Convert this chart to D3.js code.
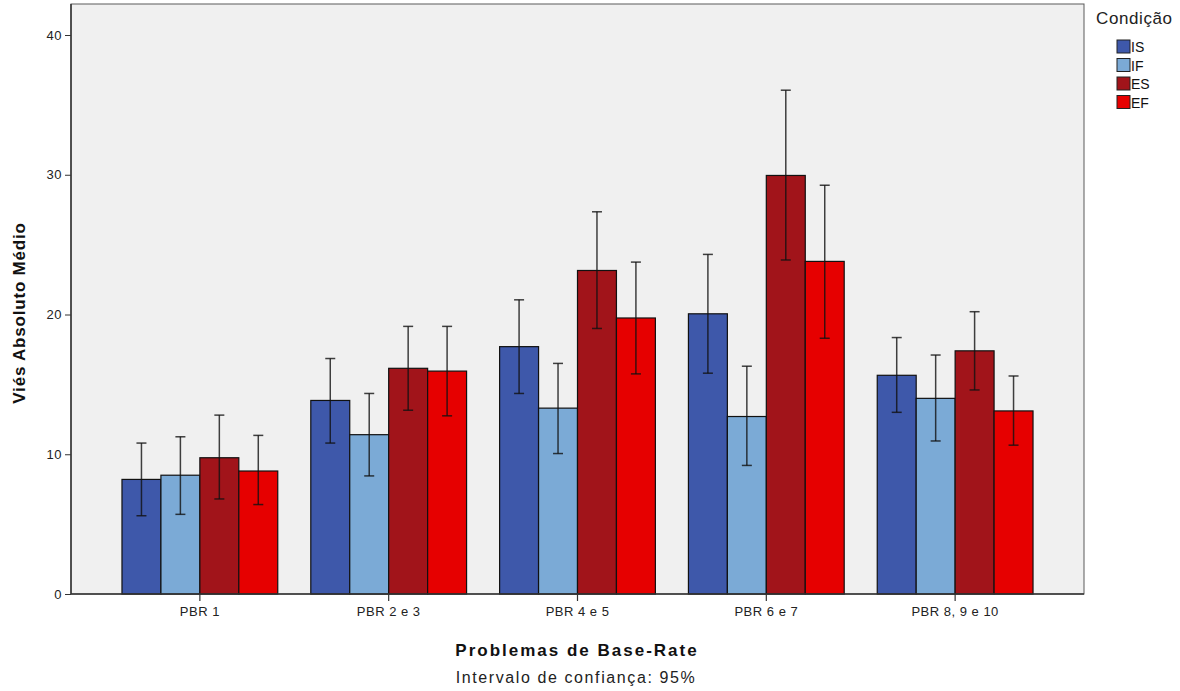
<!DOCTYPE html>
<html>
<head>
<meta charset="utf-8">
<script src="https://cdn.jsdelivr.net/npm/d3@7"></script>
<style>
  body { margin: 0; background: #fff; }
  text { font-family: "Liberation Sans", Arial, sans-serif; }
</style>
</head>
<body>
<div id="chart"></div>
<script>
// categories and series
const problems = ['PBR 1', 'PBR 2 e 3', 'PBR 4 e 5', 'PBR 6 e 7', 'PBR 8, 9 e 10'];
const conditions = ['IS', 'IF', 'ES', 'EF'];
const colors = ['#3e58aa', '#7baad6', '#a1141a', '#e60000'];

// means per condition (one value per problem)
const meanIS = [8.2, 13.85, 17.7, 20.05, 15.65];
const meanIF = [8.5, 11.4, 13.3, 12.7, 14.0];
const meanES = [9.75, 16.15, 23.15, 29.95, 17.4];
const meanEF = [8.8, 15.95, 19.75, 23.8, 13.1];

// 95% CI bounds
const lowIS = [5.6, 10.8, 14.35, 15.8, 13.0];
const highIS = [10.8, 16.85, 21.05, 24.3, 18.35];
const lowIF = [5.7, 8.45, 10.05, 9.2, 10.95];
const highIF = [11.25, 14.35, 16.5, 16.3, 17.1];
const lowES = [6.8, 13.15, 19.0, 23.9, 14.6];
const highES = [12.8, 19.15, 27.35, 36.05, 20.2];
const lowEF = [6.4, 12.75, 15.75, 18.3, 10.65];
const highEF = [11.35, 19.15, 23.75, 29.25, 15.6];

const yTicks = [0, 10, 20, 30, 40];

const means = [meanIS, meanIF, meanES, meanEF];
const lows = [lowIS, lowIF, lowES, lowEF];
const highs = [highIS, highIF, highES, highEF];

const width = 1180, height = 691;
const plot = { left: 71, right: 1084, top: 4, bottom: 594 };

const svg = d3.select('#chart').append('svg')
    .attr('width', width)
    .attr('height', height);

const x = d3.scaleBand()
    .domain(problems)
    .range([plot.left, plot.right])
    .paddingInner(0.175)
    .paddingOuter(0.27);

const xSub = d3.scaleBand()
    .domain(conditions)
    .range([0, x.bandwidth()]);

const y = d3.scaleLinear()
    .domain([0, 40])
    .range([plot.bottom, 35]);

// plot background
svg.append('rect')
    .attr('x', plot.left)
    .attr('y', plot.top)
    .attr('width', plot.right - plot.left)
    .attr('height', plot.bottom - plot.top)
    .style('fill', '#f0f0f0')
    .style('stroke', '#5a5a5a')
    .style('stroke-width', 1);

// flatten into records
const records = [];
problems.forEach((p, i) => {
    conditions.forEach((c, j) => {
        records.push({ problem: p, cond: c, idx: j, mean: means[j][i], low: lows[j][i], high: highs[j][i] });
    });
});

svg.append('g').attr('class', 'bars')
    .selectAll('rect')
    .data(records)
    .enter().append('rect')
    .attr('x', d => x(d.problem) + xSub(d.cond))
    .attr('y', d => y(d.mean))
    .attr('width', xSub.bandwidth())
    .attr('height', d => y(0) - y(d.mean))
    .style('fill', d => colors[d.idx])
    .style('stroke', '#111')
    .style('stroke-width', 1.2);

// error bars
const capW = 5;
const err = svg.append('g').attr('class', 'errors')
    .selectAll('g')
    .data(records)
    .enter().append('g')
    .attr('transform', d => `translate(${x(d.problem) + xSub(d.cond) + xSub.bandwidth() / 2},0)`)
    .style('stroke', '#111')
    .style('stroke-opacity', 0.8)
    .style('stroke-width', 1.5);

err.append('line')
    .attr('x1', 0).attr('x2', 0)
    .attr('y1', d => y(d.low))
    .attr('y2', d => y(d.high));
err.append('line')
    .attr('x1', -capW).attr('x2', capW)
    .attr('y1', d => y(d.high)).attr('y2', d => y(d.high));
err.append('line')
    .attr('x1', -capW).attr('x2', capW)
    .attr('y1', d => y(d.low)).attr('y2', d => y(d.low));

// axes
const yAxis = svg.append('g')
    .attr('transform', `translate(${plot.left},0)`)
    .call(d3.axisLeft(y).tickValues(yTicks).tickSize(6).tickPadding(3));
yAxis.select('.domain').remove();
yAxis.selectAll('line').style('stroke', '#333');
yAxis.selectAll('text').style('font-size', '13px').style('fill', '#222').style('letter-spacing', '0.5px');

const xAxis = svg.append('g')
    .attr('transform', `translate(0,${plot.bottom})`)
    .call(d3.axisBottom(x).tickSize(7).tickPadding(6));
xAxis.select('.domain').remove();
xAxis.selectAll('line').style('stroke', '#333').style('stroke-width', 1.2);
xAxis.selectAll('text').style('font-size', '13px').style('fill', '#222').style('letter-spacing', '0.5px');

// axis lines on top
svg.append('line')
    .attr('x1', plot.left).attr('x2', plot.left)
    .attr('y1', plot.top).attr('y2', plot.bottom)
    .style('stroke', '#333').style('stroke-width', 1.5);
svg.append('line')
    .attr('x1', plot.left).attr('x2', plot.right)
    .attr('y1', plot.bottom).attr('y2', plot.bottom)
    .style('stroke', '#333').style('stroke-width', 1.5);

// titles
svg.append('text')
    .attr('transform', `translate(25,${(plot.top + plot.bottom) / 2 + 14}) rotate(-90)`)
    .attr('text-anchor', 'middle')
    .style('font-size', '17px')
    .style('font-weight', 'bold')
    .style('letter-spacing', '0.8px')
    .style('fill', '#111')
    .text('Viés Absoluto Médio');

svg.append('text')
    .attr('x', 577).attr('y', 656)
    .attr('text-anchor', 'middle')
    .style('font-size', '17px')
    .style('font-weight', 'bold')
    .style('letter-spacing', '2px')
    .style('fill', '#111')
    .text('Problemas de Base-Rate');

svg.append('text')
    .attr('x', 576).attr('y', 683)
    .attr('text-anchor', 'middle')
    .style('font-size', '16px')
    .style('letter-spacing', '1.6px')
    .style('fill', '#222')
    .text('Intervalo de confiança: 95%');

// legend
const legend = svg.append('g').attr('transform', 'translate(1096,0)');
legend.append('text')
    .attr('x', 0).attr('y', 24)
    .style('font-size', '17px')
    .style('letter-spacing', '0.6px')
    .style('fill', '#222')
    .text('Condição');

const item = legend.selectAll('g.item')
    .data(conditions)
    .enter().append('g')
    .attr('class', 'item')
    .attr('transform', (d, i) => `translate(21,${40 + i * 18.5})`);
item.append('rect')
    .attr('width', 13).attr('height', 13)
    .style('fill', (d, i) => colors[i])
    .style('stroke', '#222')
    .style('stroke-width', 1);
item.append('text')
    .attr('x', 14).attr('y', 12)
    .style('font-size', '14px')
    .style('fill', '#111')
    .text(d => d);
</script>
</body>
</html>
